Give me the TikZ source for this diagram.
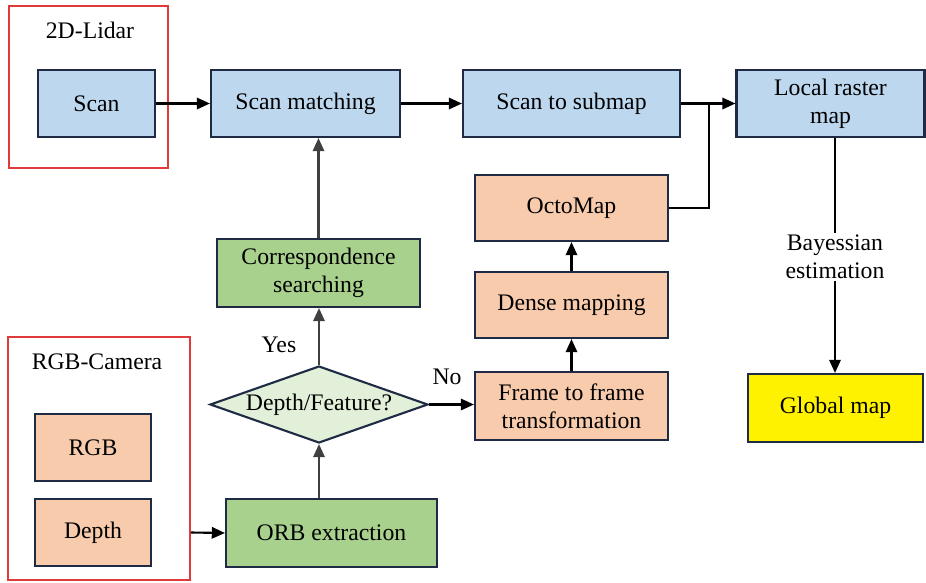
\documentclass[tikz,border=0pt]{standalone}
\usepackage{fontspec}
\setmainfont{Liberation Serif}
\usepackage{xcolor}
\usetikzlibrary{arrows.meta,positioning,calc,shapes.geometric}
\definecolor{edgecol}{HTML}{1F2A44}
\definecolor{bluefill}{HTML}{BDD7EE}
\definecolor{orangefill}{HTML}{F8CBAD}
\definecolor{greenfill}{HTML}{A9D18E}
\definecolor{palegreen}{HTML}{E2F0D9}
\definecolor{groupred}{HTML}{E03A3A}

\begin{document}
\begin{tikzpicture}[
    x=0.02cm, y=-0.02cm,
    >={Triangle[length=7.5pt,width=6.5pt]},
    every node/.style={font=\fontsize{13.5}{16}\selectfont},
    lidarbox/.style={draw=edgecol, line width=1.2pt, fill=bluefill, align=center, inner sep=2pt},
    camerabox/.style={draw=edgecol, line width=1.2pt, fill=orangefill, align=center, inner sep=2pt},
    orbbox/.style={draw=edgecol, line width=1.2pt, fill=greenfill, align=center, inner sep=2pt},
    globalbox/.style={draw=edgecol, line width=1.2pt, fill=yellow, align=center, inner sep=2pt},
    decision/.style={diamond, draw=edgecol, line width=1.2pt, fill=palegreen, aspect=2.8, inner sep=0pt, minimum width=4.36cm, minimum height=1.54cm},
    group/.style={draw=groupred, line width=1pt},
    label/.style={inner sep=1pt, align=center},
    link/.style={line width=1.2pt, black}
]
\useasboundingbox (0,0) rectangle (926,582);

% sensor groups
\node[group, minimum width=3.18cm, minimum height=3.24cm] (lidar) at (88.5,87) {};
\node[group, minimum width=3.64cm, minimum height=4.86cm] (cam) at (99,458.5) {};
\node[label] (lidartxt) at (90,30) {2D-Lidar};
\node[label] (camtxt) at (97,362) {RGB-Camera};

% top row
\node[lidarbox, minimum width=2.34cm, minimum height=1.34cm] (scan) at (96.5,103.5) {Scan};
\node[lidarbox, minimum width=3.78cm, minimum height=1.34cm] (match) at (305.5,103.5) {Scan matching};
\node[lidarbox, minimum width=4.34cm, minimum height=1.34cm] (submap) at (571.5,103.5) {Scan to submap};
\node[lidarbox, minimum width=3.76cm, minimum height=1.34cm] (raster) at (830.5,103.5) {Local raster\\map};

% dense branch
\node[camerabox, minimum width=3.86cm, minimum height=1.32cm] (octo) at (571.5,208) {OctoMap};
\node[camerabox, minimum width=3.86cm, minimum height=1.32cm] (dense) at (571.5,305) {Dense mapping};
\node[camerabox, minimum width=3.86cm, minimum height=1.36cm] (frame) at (571.5,406) {Frame to frame\\transformation};

% feature branch
\node[orbbox, minimum width=4.06cm, minimum height=1.36cm] (corr) at (318.5,273) {Correspondence\\searching};
\node[decision] (dec) at (319,404.5) {Depth/Feature?};
\node[orbbox, minimum width=4.22cm, minimum height=1.36cm] (orb) at (331.5,533) {ORB extraction};

% camera inputs
\node[camerabox, minimum width=2.32cm, minimum height=1.34cm] (rgb) at (93,447.5) {RGB};
\node[camerabox, minimum width=2.32cm, minimum height=1.34cm] (depth) at (93,532.5) {Depth};

% global map
\node[label] (bayes) at (835,257) {Bayessian\\estimation};
\node[globalbox, minimum width=3.5cm, minimum height=1.36cm] (glob) at (835.5,408) {Global map};

\node[label] (yes) at (279,345) {Yes};
\node[label] (no) at (447,377) {No};

\coordinate (join) at (709,103.5);

\draw[link, ->] (scan) -- (match);
\draw[link, ->] (match) -- (submap);
\draw[link, ->] (submap) -- (raster);
\draw[link] (octo.east) -| (join);
\draw[link, black!75, ->] (corr.north) -- (corr.north |- match.south);
\draw[link, black!75, ->] (dec.north) -- (dec.north |- corr.south);
\draw[link, ->] (dec.east) -- (dec.east -| frame.west);
\draw[link, ->] (frame) -- (dense);
\draw[link, ->] (dense) -- (octo);
\draw[link, black!75, ->] (orb.north -| dec.south) -- (dec.south);
\draw[link, ->] (depth -| cam.east) -- (orb.west);
\draw[link] (bayes.north) -- (bayes.north |- raster.south);
\draw[link, ->] (bayes.south) -- (bayes.south |- glob.north);
\end{tikzpicture}
\end{document}
